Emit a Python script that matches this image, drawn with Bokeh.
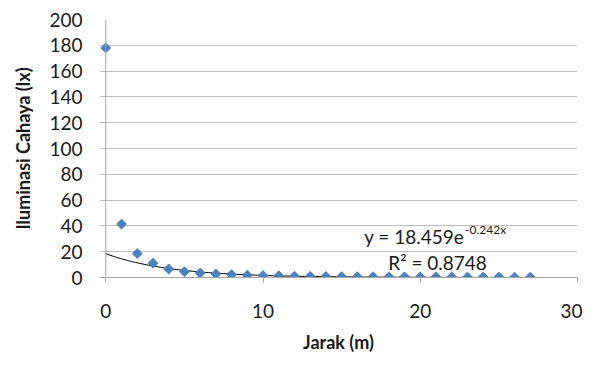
import numpy as np
from bokeh.plotting import figure
from bokeh.models import Range1d, FixedTicker, ColumnDataSource, Span
from bokeh.core.properties import value
from bokeh.embed import file_html
from bokeh.resources import INLINE

# --- data ---
jarak = list(range(0, 28))
iluminasi = [178, 41.4, 18.6, 11.0, 6.6, 4.5, 3.4, 2.7, 2.2, 1.8, 1.5, 1.3, 1.0, 0.9,
             0.8, 0.7, 0.6, 0.6, 0.5, 0.5, 0.4, 0.4, 0.4, 0.3, 0.3, 0.3, 0.3, 0.3]
fit_a = 18.459
fit_b = -0.242
r2 = 0.8748
x_ticks = [0, 10, 20, 30]
y_ticks = [0, 20, 40, 60, 80, 100, 120, 140, 160, 180, 200]

FONT = "Lato"
TXT = "#1a1a1a"
AXC = "#A6A6A6"

p = figure(width=582, height=355, output_backend="svg", toolbar_location=None,
           x_range=Range1d(-0.4, 30), y_range=Range1d(0, 200),
           min_border_left=99, min_border_right=5, min_border_top=19, min_border_bottom=77)
p.outline_line_color = None
p.background_fill_color = "white"

# axes / grid
p.xgrid.grid_line_color = None
p.ygrid.grid_line_color = "#BFBFBF"
p.ygrid.ticker = FixedTicker(ticks=y_ticks)
p.add_layout(Span(location=0, dimension="height", line_color=AXC, line_width=1))

# trendline
xf = np.linspace(0, 27, 200)
yf = fit_a * np.exp(fit_b * xf)
p.line(xf, yf, line_color="black", line_width=1)

src = ColumnDataSource(dict(x=jarak, y=iluminasi))
p.scatter("x", "y", source=src, marker="square", size=7, angle=np.pi / 4,
          fill_color="#4F81BD", line_color="#4F81BD")

# equation text
p.text(x=[22.8], y=[31.5], text=["y = 18.459e"], text_font=value(FONT),
       text_font_size="19px", text_align="right", text_baseline="middle", text_color=TXT)
p.text(x=[22.85], y=[37.0], text=["-0.242x"], text_font=value(FONT),
       text_font_size="12px", text_align="left", text_baseline="middle", text_color=TXT)
p.text(x=[21.1], y=[12.0], text=["R² = 0.8748"], text_font=value(FONT),
       text_font_size="19px", text_align="center", text_baseline="middle", text_color=TXT)

p.xaxis.ticker = FixedTicker(ticks=x_ticks)
p.yaxis.ticker = FixedTicker(ticks=y_ticks)
for ax in (p.xaxis, p.yaxis):
    ax.axis_line_color = AXC
    ax.major_tick_line_color = AXC
    ax.minor_tick_line_color = None
    ax.major_tick_in = 0
    ax.major_tick_out = 5
    ax.major_label_text_font = FONT
    ax.major_label_text_font_size = "19px"
    ax.major_label_text_color = TXT
    ax.axis_label_text_font = FONT
    ax.axis_label_text_font_size = "18px"
    ax.axis_label_text_font_style = "bold"
    ax.axis_label_text_color = TXT

p.yaxis.axis_line_color = None
p.yaxis.major_tick_line_color = None
p.yaxis.major_tick_out = 0

p.xaxis.axis_label = "Jarak (m)"
p.xaxis.major_label_standoff = 21
p.xaxis.axis_label_standoff = 10
p.yaxis.axis_label = "Iluminasi Cahaya (lx)"
p.yaxis.major_label_standoff = 17
p.yaxis.axis_label_standoff = 12

open("out.html", "w").write(file_html(p, INLINE))
